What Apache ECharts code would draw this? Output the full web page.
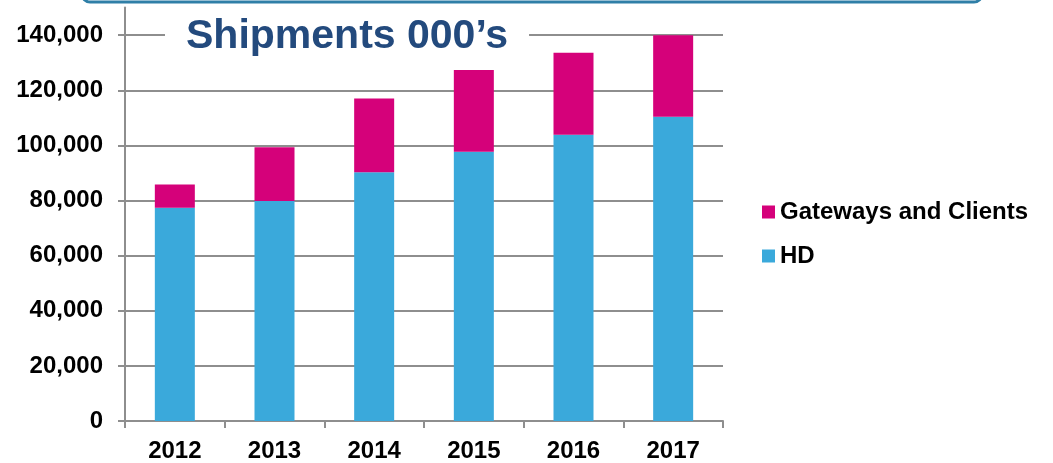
<!DOCTYPE html>
<html>
<head>
<meta charset="utf-8">
<script src="https://cdn.jsdelivr.net/npm/echarts@6/dist/echarts.min.js"></script>
<style>
  html, body { margin: 0; padding: 0; background: #fff; }
  #chart { width: 1053px; height: 463px; }
</style>
</head>
<body>
<div id="chart"></div>
<script>
const years = ['2012', '2013', '2014', '2015', '2016', '2017']
const hdValues = [77400, 79800, 90300, 97700, 103900, 110400]
const gatewayValues = [8400, 19500, 26700, 29700, 29700, 29600]
const yTicks = [0, 20000, 40000, 60000, 80000, 100000, 120000, 140000]

const font = "'Liberation Sans', Arial, sans-serif"
const gray = '#8e8e8e'

const chart = echarts.init(document.getElementById('chart'))
chart.setOption({
  animation: false,
  title: {
    text: 'Shipments 000\u2019s',
    left: 165,
    top: 14,
    padding: [2, 21],
    backgroundColor: '#fff',
    textStyle: { color: '#234a7d', fontFamily: font, fontWeight: 'bold', fontSize: 41 },
    z: 10,
  },
  graphic: [
    {
      type: 'rect',
      shape: { x: 82, y: -30, width: 900, height: 32, r: 8 },
      style: { fill: 'none', stroke: '#2f7fa7', lineWidth: 3 },
      z: 100,
    },
  ],
  legend: {
    orient: 'vertical',
    left: 757,
    top: 195,
    itemWidth: 13,
    itemHeight: 13,
    itemGap: 20,
    icon: 'rect',
    data: ['Gateways and Clients', 'HD'],
    textStyle: { color: '#000', fontFamily: font, fontWeight: 'bold', fontSize: 24 },
  },
  grid: { left: 125, right: 330, top: 7.6, bottom: 39.5, containLabel: false },
  xAxis: {
    type: 'category',
    data: years,
    axisLine: { lineStyle: { color: gray, width: 2 } },
    axisTick: { show: true, length: 7, alignWithLabel: false, lineStyle: { color: gray, width: 2 } },
    axisLabel: { color: '#000', fontFamily: font, fontWeight: 'bold', fontSize: 24, margin: 18 },
  },
  yAxis: {
    type: 'value',
    min: 0,
    max: 150000,
    interval: 20000,
    axisLine: { show: true, lineStyle: { color: gray, width: 2 } },
    axisTick: { show: true, length: 7, customValues: yTicks, lineStyle: { color: gray, width: 2 } },
    axisLabel: {
      customValues: yTicks,
      color: '#000',
      fontFamily: font,
      fontWeight: 'bold',
      fontSize: 24,
      margin: 22,
      formatter: (v) => v.toLocaleString('en-US'),
    },
    splitLine: { show: true, lineStyle: { color: gray, width: 2 } },
  },
  series: [
    {
      name: 'HD',
      type: 'bar',
      stack: 'total',
      barWidth: 40,
      data: hdValues,
      itemStyle: { color: '#3aa9db' },
    },
    {
      name: 'Gateways and Clients',
      type: 'bar',
      stack: 'total',
      barWidth: 40,
      data: gatewayValues,
      itemStyle: { color: '#d5017a' },
    },
  ],
})
</script>
</body>
</html>
